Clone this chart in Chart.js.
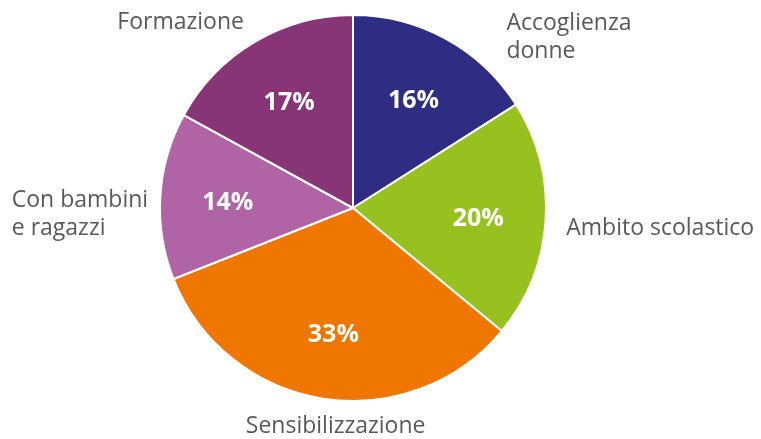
<!DOCTYPE html>
<html lang="it">
<head>
<meta charset="UTF-8">
<title>Aree di intervento</title>
<script src="https://cdn.jsdelivr.net/npm/chart.js"></script>
<style>
  html, body { margin: 0; padding: 0; background: #fff; }
  #wrap { width: 761px; height: 439px; }
</style>
</head>
<body>
<div id="wrap"><canvas id="torta"></canvas></div>
<script>
// dati
const categorie = ['Accoglienza donne', 'Ambito scolastico', 'Sensibilizzazione', 'Con bambini e ragazzi', 'Formazione'];
const percentuali = [16, 20, 33, 14, 17];
const colori = ['#2e2c83', '#97c11f', '#ef7700', '#b064a6', '#873577'];

// righe delle etichette esterne e dove metterle (in raggi dal centro)
const righe = [['Accoglienza', 'donne'], ['Ambito scolastico'], ['Sensibilizzazione'], ['Con bambini', 'e ragazzi'], ['Formazione']];
const posEtichette = [
  { x: 0.795, y: -0.885, align: 'left' },
  { x: 1.105, y: 0.105, align: 'left' },
  { x: -0.09, y: 1.13, align: 'center' },
  { x: -1.768, y: 0.035, align: 'left' },
  { x: -0.565, y: -0.96, align: 'right' }
];

const etichette = {
  id: 'etichette',
  afterDatasetsDraw(chart) {
    const ctx = chart.ctx;
    const archi = chart.getDatasetMeta(0).data;
    ctx.save();
    archi.forEach((arc, i) => {
      const p = arc.getProps(['x', 'y', 'startAngle', 'endAngle', 'outerRadius']);
      const mid = (p.startAngle + p.endAngle) / 2;
      const r = p.outerRadius * 0.65;
      // percentuale dentro la fetta
      ctx.fillStyle = '#fff';
      ctx.font = 'bold 25px "Open Sans"';
      ctx.textAlign = 'center';
      ctx.textBaseline = 'middle';
      ctx.fillText(percentuali[i] + '%', p.x + Math.cos(mid) * r, p.y + Math.sin(mid) * r + 3);
      // nome fuori
      const pos = posEtichette[i];
      const lx = p.x + pos.x * p.outerRadius;
      const ly = p.y + pos.y * p.outerRadius;
      ctx.fillStyle = '#595959';
      ctx.font = '23px "Open Sans"';
      ctx.textAlign = pos.align;
      const h = 28;
      righe[i].forEach((t, k) => {
        ctx.fillText(t, lx, ly + (k - (righe[i].length - 1) / 2) * h);
      });
    });
    ctx.restore();
  }
};

new Chart(document.getElementById('torta'), {
  type: 'pie',
  data: {
    labels: categorie,
    datasets: [{
      data: percentuali,
      backgroundColor: colori,
      borderColor: '#fff',
      borderWidth: 2
    }]
  },
  options: {
    responsive: true,
    maintainAspectRatio: false,
    animation: false,
    layout: { padding: { left: 158, right: 213, top: 14, bottom: 37 } },
    plugins: {
      legend: { display: false },
      tooltip: { enabled: false }
    }
  },
  plugins: [etichette]
});
</script>
</body>
</html>
